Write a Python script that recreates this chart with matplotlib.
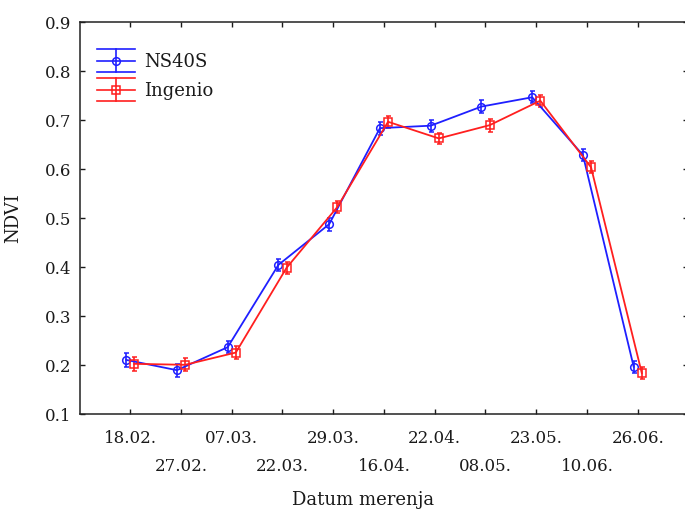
import matplotlib
matplotlib.use("Agg")
import matplotlib.pyplot as plt
from matplotlib.legend_handler import HandlerBase
from matplotlib.lines import Line2D
import numpy as np

dates = ["18.02.", "27.02.", "07.03.", "22.03.", "29.03.", "16.04.",
         "22.04.", "08.05.", "23.05.", "10.06.", "26.06."]
ns40s = [0.211, 0.190, 0.237, 0.405, 0.488, 0.684, 0.689, 0.728, 0.747, 0.629, 0.197]
ns40s_err = [0.014, 0.013, 0.012, 0.012, 0.013, 0.013, 0.012, 0.013, 0.012, 0.012, 0.012]
ingenio = [0.203, 0.201, 0.226, 0.399, 0.523, 0.697, 0.663, 0.690, 0.740, 0.604, 0.184]
ingenio_err = [0.014, 0.013, 0.013, 0.012, 0.012, 0.012, 0.012, 0.013, 0.012, 0.012, 0.012]

plt.rcParams['font.family'] = ['DejaVu Serif']
TXT = '#1a1a1a'
BLUE = '#1f1fff'
RED = '#ff1f1f'

fig = plt.figure(figsize=(6.85, 5.12), dpi=100)
ax = fig.add_axes([79.5/685, 1 - 414.3/512, (688.5-79.5)/685, (414.3-22.3)/512])

x = np.arange(len(dates))
off = 0.08
lw = 1.3
ax.errorbar(x - off, ns40s, yerr=ns40s_err, color=BLUE, lw=lw, marker='o',
            ms=5.5, mfc='none', mew=1.1, capsize=1.8, elinewidth=1.2, capthick=1.1, zorder=3)
ax.errorbar(x + off, ingenio, yerr=ingenio_err, color=RED, lw=lw, marker='s',
            ms=5.2, mfc='none', mew=1.1, capsize=1.8, elinewidth=1.2, capthick=1.1, zorder=3)

ax.set_xlim(-1, 11)
ax.set_ylim(0.1, 0.9)
ax.set_yticks(np.arange(0.1, 0.91, 0.1))
ax.set_yticklabels([f"{v:.1f}" for v in np.arange(0.1, 0.91, 0.1)])

ax.set_xticks(x[::2])
ax.set_xticklabels(dates[::2])
ax.set_xticks(x[1::2], minor=True)
ax.set_xticklabels(dates[1::2], minor=True)

ax.tick_params(axis='both', which='both', direction='in', length=3.5, width=1,
               colors=TXT, labelsize=12, top=True, right=True)
ax.tick_params(axis='x', which='major', pad=11.5)
ax.tick_params(axis='x', which='minor', pad=31.5)
ax.tick_params(axis='y', pad=6)
for s in ax.spines.values():
    s.set_linewidth(1.1)
    s.set_color('#222222')

ax.set_ylabel("NDVI", fontsize=13, color=TXT)
ax.yaxis.set_label_coords((22 - 79.5)/609, 0.5)
ax.set_xlabel("Datum merenja", fontsize=13, color=TXT)
ax.xaxis.set_label_coords((363 - 79.5)/609, (414.3 - 500)/392, transform=ax.transAxes)
ax.xaxis.label.set_va('center')


class ErrHandler(HandlerBase):
    def __init__(self, color, marker, ms):
        super().__init__()
        self.color = color
        self.marker = marker
        self.ms = ms

    def create_artists(self, legend, orig_handle, xdescent, ydescent, width, height,
                       fontsize, trans):
        cy = height / 2 - ydescent
        x0 = -xdescent
        x1 = x0 + width
        xm = (x0 + x1) / 2
        d = 8.4
        arts = []
        for yy in (cy - d, cy, cy + d):
            arts.append(Line2D([x0, x1], [yy, yy], color=self.color, lw=1.2))
        arts.append(Line2D([xm, xm], [cy - d, cy + d], color=self.color, lw=1.2))
        arts.append(Line2D([xm], [cy], color=self.color, marker=self.marker,
                           ms=self.ms, mfc='none', mew=1.1, lw=0))
        for a in arts:
            a.set_transform(trans)
        return arts


h1 = Line2D([], [], color=BLUE)
h2 = Line2D([], [], color=RED)
leg = ax.legend([h1, h2], ["NS40S", "Ingenio"], loc='upper left',
                bbox_to_anchor=((97 - 79.5)/609, 1 - (53 - 22.3)/392),
                frameon=False, fontsize=13, borderaxespad=0, borderpad=0,
                handlelength=2.1, handletextpad=0.5, labelspacing=0.6,
                handler_map={h1: ErrHandler(BLUE, 'o', 5.5),
                             h2: ErrHandler(RED, 's', 5.2)})
for t in leg.get_texts():
    t.set_color(TXT)

fig.savefig("out.png", dpi=100)
